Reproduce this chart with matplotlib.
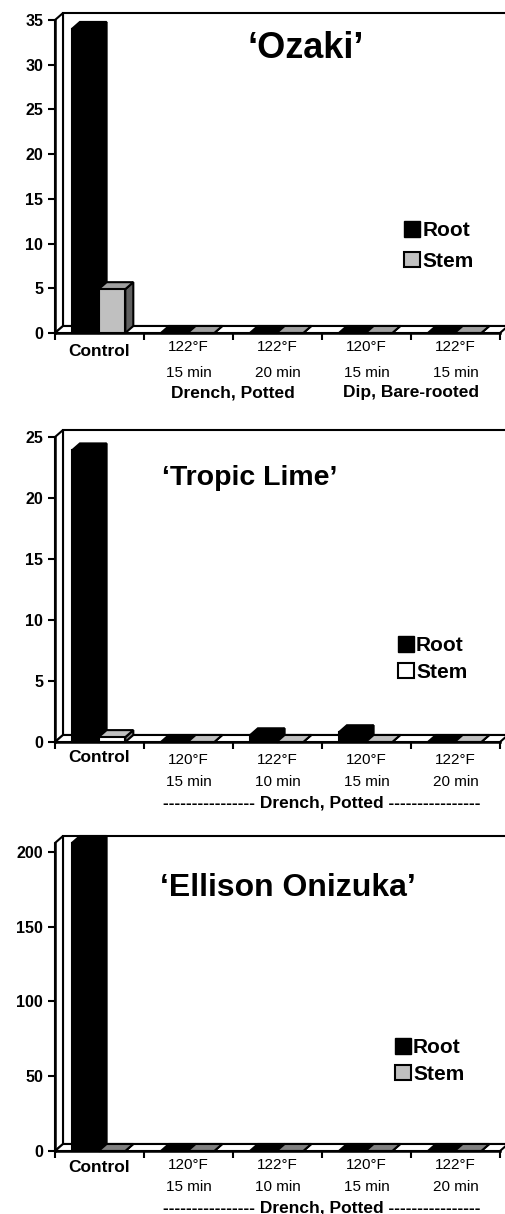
import numpy as np
import matplotlib.pyplot as plt
from matplotlib.patches import Polygon, Patch

plt.rcParams['font.family'] = ['Liberation Sans', 'DejaVu Sans']

# 'Ozaki'
ozaki_cats = ['Control', '122°F\n15 min', '122°F\n20 min', '120°F\n15 min', '122°F\n15 min']
ozaki_root = [34.0, 0, 0, 0, 0]
ozaki_stem = [4.9, 0, 0, 0, 0]
ozaki_groups = [(2.0, 'Drench, Potted'), (4.0, 'Dip, Bare-rooted')]

# 'Tropic Lime'
lime_cats = ['Control', '120°F\n15 min', '122°F\n10 min', '120°F\n15 min', '122°F\n20 min']
lime_root = [23.9, 0, 0.55, 0.8, 0]
lime_stem = [0.4, 0, 0, 0, 0]

# 'Ellison Onizuka'
oniz_cats = ['Control', '120°F\n15 min', '122°F\n10 min', '120°F\n15 min', '122°F\n20 min']
oniz_root = [206, 0, 0, 0, 0]
oniz_stem = [0, 0, 0, 0, 0]

drench = '---------------- Drench, Potted ----------------'

W, H = 506, 1214
DX, DY = 8, 7   # depth of the 3-D box in pixels

fig = plt.figure(figsize=(W / 100, H / 100), dpi=100)


def panel(box, ymax, ytop, ystep, cats, root, stem, stem_col, title, title_pos, title_size,
          leg_pos, leg_space, groups, offs):
    left, top, right, bottom = box
    ax = fig.add_axes([left / W, 1 - bottom / H, (right - left) / W, (bottom - top) / H])
    n = len(cats)
    ax.set_xlim(0, n)
    ax.set_ylim(0, ymax)
    ax.patch.set_visible(False)
    dx = DX * n / (right - left)
    dy = DY * ymax / (bottom - top)
    kw = dict(edgecolor='black', linewidth=1.5, clip_on=False)

    # walls and floor
    ax.add_patch(Polygon([(dx, dy), (n + dx, dy), (n + dx, ymax + dy), (dx, ymax + dy)],
                         facecolor='white', zorder=0.5, **kw))
    ax.add_patch(Polygon([(0, 0), (dx, dy), (dx, ymax + dy), (0, ymax)],
                         facecolor='white', zorder=0.6, **kw))
    ax.add_patch(Polygon([(0, 0), (n, 0), (n + dx, dy), (dx, dy)],
                         facecolor='white', zorder=0.7, **kw))

    front_s, side_s, top_s, leg_s = stem_col
    z = 1.0
    for i in range(n):
        for vals, off, cols in [(root, 0.19, ('black', 'black', 'black')),
                                (stem, 0.49, (front_s, side_s, top_s))]:
            v = vals[i]
            x0 = i + off
            x1 = x0 + 0.3
            ax.add_patch(Polygon([(x1, 0), (x1 + dx, dy), (x1 + dx, v + dy), (x1, v)],
                                 facecolor=cols[1], zorder=z, **kw))
            ax.add_patch(Polygon([(x0, v), (x1, v), (x1 + dx, v + dy), (x0 + dx, v + dy)],
                                 facecolor=cols[2], zorder=z + 0.01, **kw))
            ax.bar(x0, v, width=0.3, align='edge', color=cols[0], zorder=z + 0.02, **kw)
            z += 0.05

    for s in ['top', 'right']:
        ax.spines[s].set_visible(False)
    for s in ['left', 'bottom']:
        ax.spines[s].set_linewidth(1.8)
        ax.spines[s].set_zorder(5)
    ax.set_yticks(np.arange(0, ytop + 1, ystep))
    ax.set_xticks(range(n + 1))
    ax.set_xticklabels([])
    ax.tick_params(direction='out', length=5, width=1.5, labelsize=11.5)
    for t in ax.get_yticklabels():
        t.set_fontweight('bold')

    # category labels
    xt = ax.get_xaxis_transform()
    ctrl, l1, l2, grp = offs
    for i, c in enumerate(cats):
        if '\n' not in c:
            ax.annotate(c, (i + 0.5, 0), xycoords=xt, xytext=(0, -ctrl * 0.72),
                        textcoords='offset points', ha='center', va='center',
                        fontsize=12.5, fontweight='bold')
        else:
            a, b = c.split('\n')
            ax.annotate(a, (i + 0.5, 0), xycoords=xt, xytext=(0, -l1 * 0.72),
                        textcoords='offset points', ha='center', va='center', fontsize=11)
            ax.annotate(b, (i + 0.5, 0), xycoords=xt, xytext=(0, -l2 * 0.72),
                        textcoords='offset points', ha='center', va='center', fontsize=11)
    for gx, g in groups:
        ax.annotate(g, (gx, 0), xycoords=xt, xytext=(0, -grp * 0.72),
                    textcoords='offset points', ha='center', va='center',
                    fontsize=12.5, fontweight='bold')

    fig.text(title_pos[0] / W, 1 - title_pos[1] / H, title, fontsize=title_size,
             fontweight='bold', ha='left', va='center')

    handles = [Patch(facecolor='black', edgecolor='black', label='Root'),
               Patch(facecolor=leg_s, edgecolor='black', linewidth=1.5, label='Stem')]
    fig.legend(handles=handles, loc='center left',
               bbox_to_anchor=(leg_pos[0] / W, 1 - leg_pos[1] / H),
               frameon=False, handlelength=0.75, handleheight=0.75, handletextpad=0.12,
               borderpad=0, borderaxespad=0, labelspacing=leg_space,
               prop={'weight': 'bold', 'size': 15})
    return ax


panel((55, 20, 500, 333), 35, 35, 5, ozaki_cats, ozaki_root, ozaki_stem,
      ('#c0c0c0', '#606060', '#a0a0a0', '#c0c0c0'), '\u2018Ozaki\u2019', (248, 48), 26,
      (404, 246), 0.55, ozaki_groups, (19, 14, 40, 60))

panel((55, 437, 500, 742), 25, 25, 5, lime_cats, lime_root, lime_stem,
      ('white', '#808080', '#c0c0c0', 'white'), '\u2018Tropic Lime\u2019', (162, 478), 20.5,
      (398, 659), 0.35, [(3.0, drench)], (16, 18, 40, 61))

panel((55, 843, 500, 1151), 206, 200, 50, oniz_cats, oniz_root, oniz_stem,
      ('#c0c0c0', '#606060', '#808080', '#c0c0c0'), '\u2018Ellison Onizuka\u2019', (160, 888), 23,
      (395, 1061), 0.35, [(3.0, drench)], (17, 14, 36, 57))

fig.savefig('out.png', dpi=100)
